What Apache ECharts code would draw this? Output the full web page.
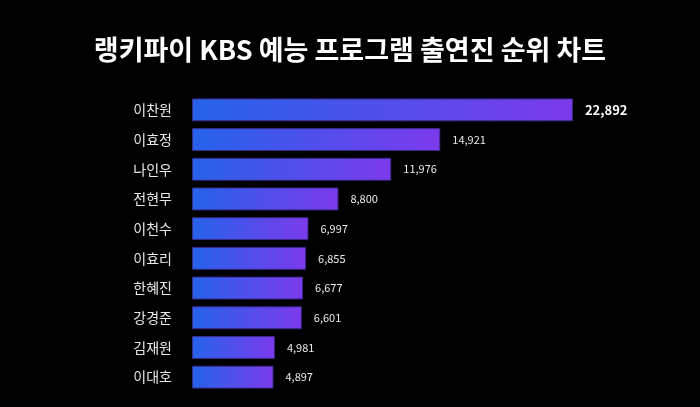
<!DOCTYPE html>
<html>
<head>
<meta charset="utf-8">
<script src="https://cdn.jsdelivr.net/npm/echarts@6/dist/echarts.min.js"></script>
<style>
html,body{margin:0;padding:0;background:#000;}
#c{width:700px;height:407px;}
</style>
</head>
<body>
<div id="c"></div>
<script>
var titleText = '랭키파이 KBS 예능 프로그램 출연진 순위 차트';
var names = ['이찬원','이효정','나인우','전현무','이천수','이효리','한혜진','강경준','김재원','이대호'];
var values = [22892,14921,11976,8800,6997,6855,6677,6601,4981,4897];

var chart = echarts.init(document.getElementById('c'));
var font = '"Noto Sans CJK KR","Noto Sans",sans-serif';
chart.setOption({
  backgroundColor: '#000',
  animation: false,
  title: {
    text: titleText,
    left: 'center',
    top: 31,
    textStyle: {color: '#fff', fontSize: 27, fontWeight: 'bold', fontFamily: font}
  },
  grid: {left: 192, right: 92, top: 95, bottom: 15},
  xAxis: {
    type: 'value', min: 0, max: 25000,
    show: false
  },
  yAxis: {
    type: 'category',
    data: names,
    inverse: true,
    axisLine: {show: false},
    axisTick: {show: false},
    axisLabel: {color: '#e8e8e8', fontSize: 14, margin: 20, fontFamily: font}
  },
  series: [{
    type: 'bar',
    data: values.map(function(v, i){
      return {
        value: v,
        label: i === 0 ? {fontSize: 13, fontWeight: 'bold', color: '#fff'} : undefined
      };
    }),
    barCategoryGap: '23%',
    itemStyle: {
      color: new echarts.graphic.LinearGradient(0, 0, 1, 0, [
        {offset: 0, color: '#2563eb'},
        {offset: 1, color: '#7c3aed'}
      ]),
      borderColor: '#3a2a8a',
      borderWidth: 1
    },
    label: {
      show: true,
      position: 'right',
      distance: 12,
      color: '#eaeaea',
      fontSize: 11,
      fontFamily: font,
      formatter: function(p){ return p.value.toLocaleString('en-US'); }
    }
  }]
});
</script>
</body>
</html>
